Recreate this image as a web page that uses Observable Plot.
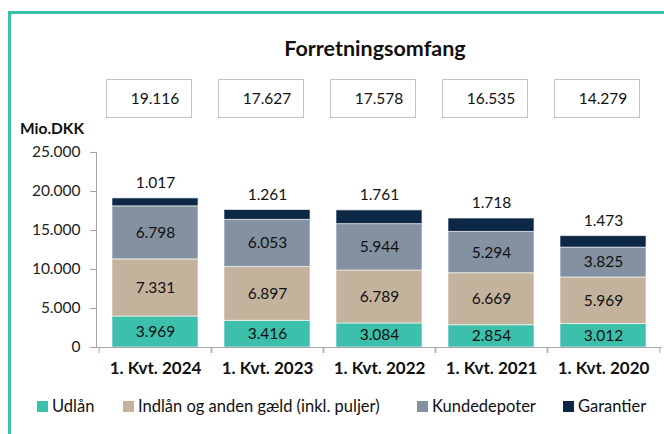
<!DOCTYPE html>
<html><head><meta charset="utf-8">
<script src="https://cdn.jsdelivr.net/npm/d3@7"></script>
<script src="https://cdn.jsdelivr.net/npm/@observablehq/plot@0.6"></script>
<style>
body{margin:0;background:#fff;font-family:Lato,sans-serif;}
#wrap{position:relative;width:664px;height:434px;overflow:hidden;background:#fff;}
#border{position:absolute;left:8px;top:11px;width:700px;height:500px;border-left:3px solid #3cbfab;border-top:3px solid #3cbfab;}
#title{position:absolute;left:0;top:35px;width:750px;text-align:center;font-weight:bold;font-size:21.5px;line-height:26px;color:#111;}
#unit{position:absolute;left:20px;top:119px;font-weight:bold;font-size:15.5px;line-height:18px;color:#111;}
.box{position:absolute;top:79px;height:39px;box-sizing:border-box;border:1px solid #c4c4c4;background:#fff;font-size:15.5px;line-height:37px;text-align:center;color:#111;}
.item{position:absolute;top:396px;height:20px;display:flex;align-items:center;gap:4px;white-space:nowrap;font-size:16.5px;color:#111;}
.sw{width:11px;height:11px;display:inline-block;}
#chart{position:absolute;left:0;top:0;}
</style></head>
<body>
<div id="wrap">
  <div id="border"></div>
  <div id="chart"></div>
  <div id="title">Forretningsomfang</div>
  <div id="unit">Mio.DKK</div>
</div>
<script>
const quarters = ["1. Kvt. 2024","1. Kvt. 2023","1. Kvt. 2022","1. Kvt. 2021","1. Kvt. 2020"];
const series = ["Udlån","Indlån og anden gæld (inkl. puljer)","Kundedepoter","Garantier"];
const udlaan = [3969,3416,3084,2854,3012];
const indlaan = [7331,6897,6789,6669,5969];
const kundedepoter = [6798,6053,5944,5294,3825];
const garantier = [1017,1261,1761,1718,1473];
const totals = [19116,17627,17578,16535,14279];
const yTicks = [0,5000,10000,15000,20000,25000];
const colors = ["#3cbfab","#c3b29c","#8391a0","#0c2846"];
// layout only: legend item left positions (px)
const legendLeft = [37,123,417,563];

const fmt = d3.formatLocale({decimal:",", thousands:".", grouping:[3], currency:["",""]}).format(",d");
const valuesBySeries = [udlaan, indlaan, kundedepoter, garantier];
const data = [];
series.forEach((s, si) => quarters.forEach((q, qi) => data.push({q, s, v: valuesBySeries[si][qi]})));

const W = 664, H = 434, mL = 96, mR = 2, mT = 152, mB = 87;
const padIn = 0.23, padOut = 0.125;
const step = (W - mL - mR) / (quarters.length - padIn + 2 * padOut);

const plot = Plot.plot({
  width: W, height: H,
  marginLeft: mL, marginRight: mR, marginTop: mT, marginBottom: mB,
  style: {fontFamily: "Lato, sans-serif", fontSize: "15px", color: "#111", background: "transparent", overflow: "visible"},
  x: {domain: quarters, paddingInner: padIn, paddingOuter: padOut, label: null},
  y: {domain: [0, 25000], label: null},
  color: {domain: series, range: colors},
  marks: [
    Plot.barY(data, {x: "q", y: "v", z: "s", fill: "s", stroke: "#fff", strokeOpacity: 0.6, strokeWidth: 1}),
    Plot.text(data, Plot.stackY({x: "q", y: "v", z: "s", text: d => d.s !== "Garantier" ? fmt(d.v) : "", fontSize: 15.5, fill: "#111"})),
    Plot.text(data, Plot.stackY2({x: "q", y: "v", z: "s", text: d => d.s === "Garantier" ? fmt(d.v) : "", dy: -15, fontSize: 15.5, fill: "#111"})),
    Plot.ruleY([0], {stroke: "#a6a6a6"}),
    Plot.frame({anchor: "left", stroke: "#a6a6a6"}),
    Plot.axisY({ticks: yTicks, tickFormat: fmt, tickSize: 6, tickPadding: 10, fontSize: 15.5, stroke: "#a6a6a6", fill: "#222", label: null}),
    Plot.axisX({tickSize: 0, tickPadding: 14, fontSize: 17, fontWeight: "bold", fill: "#111", label: null}),
    Plot.axisX({tickSize: 6, tickFormat: () => "", dx: -step / 2, stroke: "#a6a6a6", label: null}),
    Plot.axisX({tickSize: 6, tickFormat: () => "", dx: step / 2, stroke: "#a6a6a6", label: null})
  ]
});
document.getElementById("chart").appendChild(plot);

const xs = plot.scale("x");
const wrap = document.getElementById("wrap");
quarters.forEach((q, i) => {
  const b = document.createElement("div");
  b.className = "box";
  b.style.left = (xs.apply(q) - 6) + "px";
  b.style.width = xs.bandwidth + "px";
  b.style.paddingLeft = "12px";
  b.textContent = fmt(totals[i]);
  wrap.appendChild(b);
});

series.forEach((s, i) => {
  const it = document.createElement("div");
  it.className = "item";
  it.style.left = legendLeft[i] + "px";
  const sw = document.createElement("span");
  sw.className = "sw";
  sw.style.background = colors[i];
  const t = document.createElement("span");
  t.textContent = s;
  it.appendChild(sw); it.appendChild(t);
  wrap.appendChild(it);
});
</script>
</body></html>
